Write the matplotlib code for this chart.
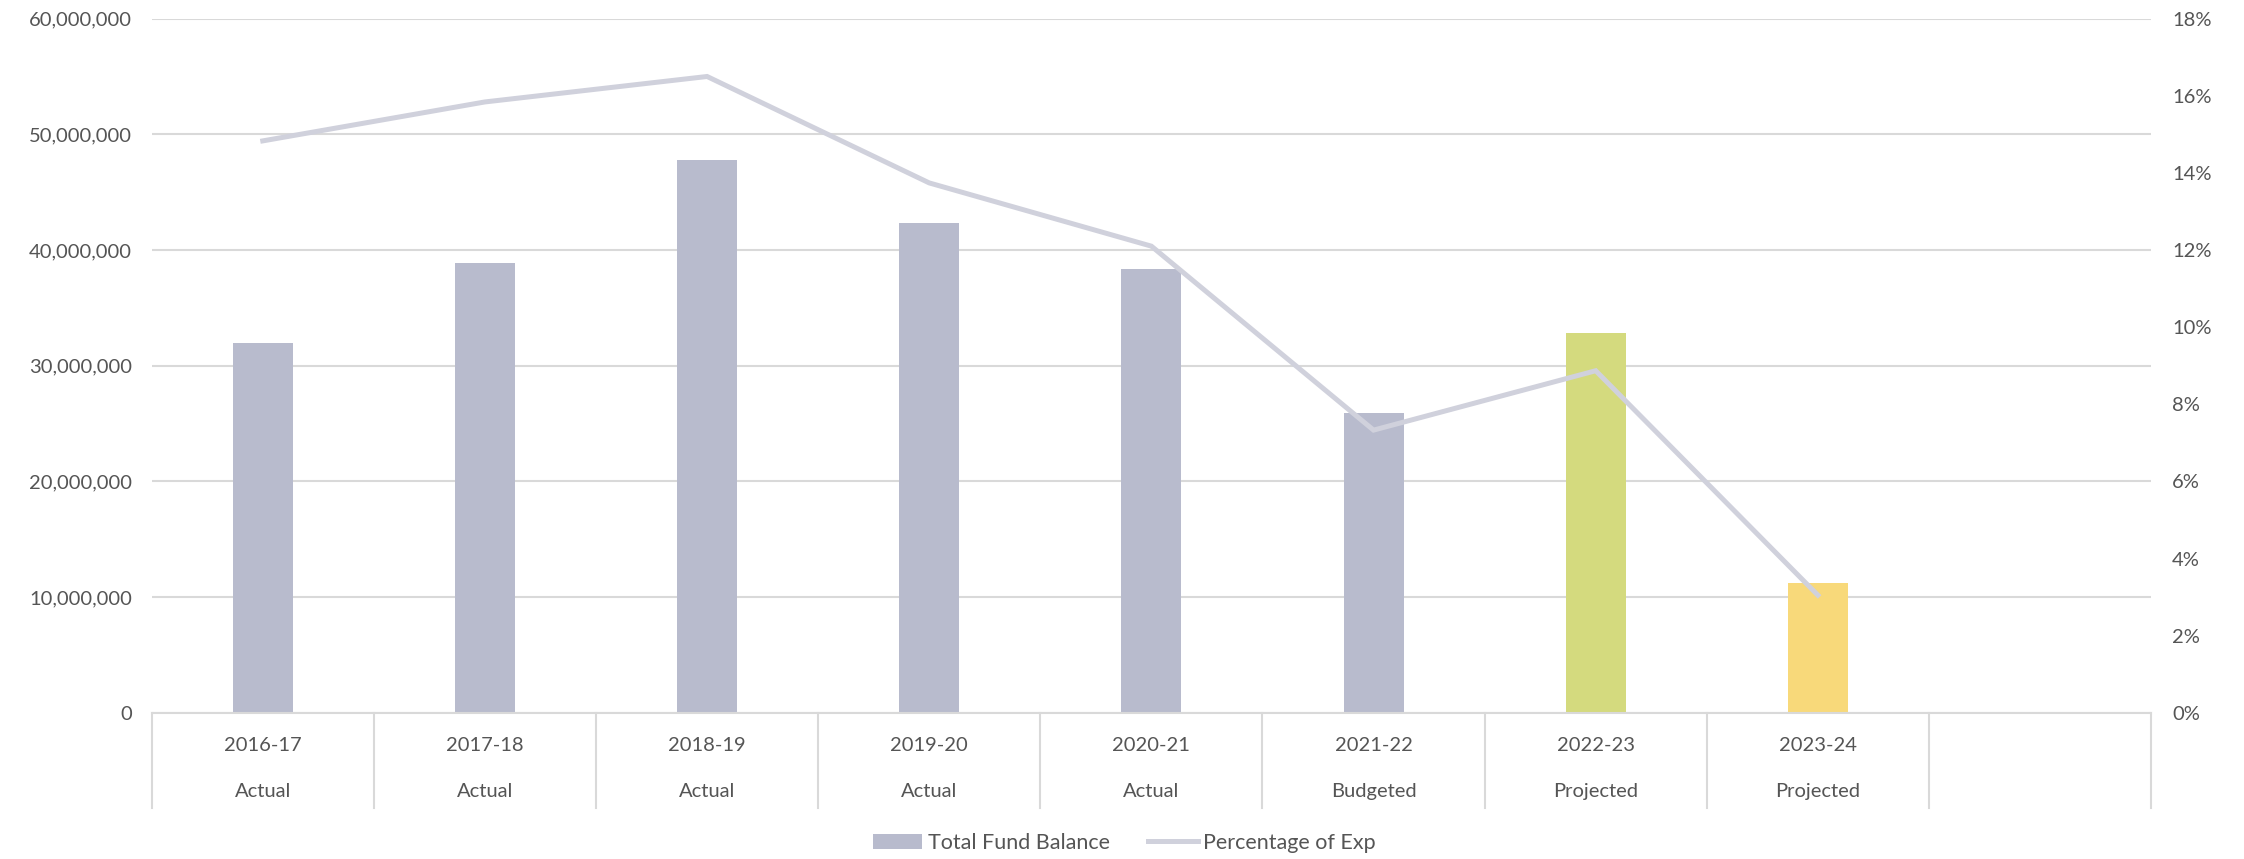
import matplotlib
matplotlib.use("Agg")
import matplotlib.pyplot as plt
from matplotlib import font_manager
from matplotlib.ticker import FuncFormatter, MultipleLocator
from matplotlib.patches import Patch
from matplotlib.lines import Line2D

# ---- data ----
years = ["2016-17", "2017-18", "2018-19", "2019-20", "2020-21", "2021-22", "2022-23", "2023-24"]
status = ["Actual", "Actual", "Actual", "Actual", "Actual", "Budgeted", "Projected", "Projected"]
fund_balance = [32.0e6, 38.85e6, 47.8e6, 42.3e6, 38.4e6, 25.9e6, 32.8e6, 11.2e6]
pct_of_exp = [14.83, 15.84, 16.5, 13.74, 12.1, 7.33, 8.87, 3.05]
bar_colors = ["#B8BBCD"] * 6 + ["#D4DA7E", "#F8D97A"]
n_slots = 9  # one empty trailing category slot

names = {f.name for f in font_manager.fontManager.ttflist}
fam = [f for f in ["Lato", "DejaVu Sans"] if f in names]
plt.rcParams["font.family"] = fam

TXT = "#555555"
GRID = "#D9D9D9"
FS = 14.5

fig = plt.figure(figsize=(22.44, 8.59), dpi=100)
ax = fig.add_axes([0.0676, 0.1702, 0.8910, 0.8081])
ax2 = ax.twinx()

x = list(range(len(years)))
ax.bar(x, fund_balance, width=0.27, color=bar_colors, zorder=2)
ax.set_xlim(-0.5, n_slots - 0.5)
ax.set_ylim(0, 60e6)
ax.yaxis.set_major_locator(MultipleLocator(10e6))
ax.yaxis.set_major_formatter(FuncFormatter(lambda v, p: f"{int(v):,}"))
ax.grid(axis="y", color=GRID, linewidth=1.5, zorder=0)
ax.set_axisbelow(True)
ax.tick_params(axis="y", length=0, pad=14, labelsize=FS, labelcolor=TXT)
ax.tick_params(axis="x", length=0, labelbottom=False)
for s in ["top", "left", "right"]:
    ax.spines[s].set_visible(False)
ax.spines["bottom"].set_color(GRID)
ax.spines["bottom"].set_linewidth(1.5)

ax2.plot(x, pct_of_exp, color="#D0D1DC", linewidth=3.6, solid_joinstyle="miter", zorder=3)
ax2.set_ylim(0, 18)
ax2.yaxis.set_major_locator(MultipleLocator(2))
ax2.yaxis.set_major_formatter(FuncFormatter(lambda v, p: f"{int(round(v))}%"))
ax2.tick_params(axis="y", length=0, pad=15, labelsize=FS, labelcolor=TXT)
for s in ["top", "left", "right", "bottom"]:
    ax2.spines[s].set_visible(False)

# two-level category labels
trans = ax.get_xaxis_transform()
for i in range(len(years)):
    ax.text(i, -0.0464, years[i], transform=trans, ha="center", va="center",
            fontsize=FS, color=TXT)
    ax.text(i, -0.1127, status[i], transform=trans, ha="center", va="center",
            fontsize=FS, color=TXT)
for k in range(n_slots + 1):
    ax.plot([k - 0.5, k - 0.5], [0, -0.137], transform=trans, color=GRID,
            linewidth=1.5, clip_on=False)

handles = [Patch(facecolor="#B8BBCD", edgecolor="none", label="Total Fund Balance"),
           Line2D([0], [0], color="#D0D1DC", linewidth=3.6, label="Percentage of Exp")]
leg = fig.legend(handles=handles, loc="center", bbox_to_anchor=(0.501, 0.0186),
                 ncol=2, frameon=False, fontsize=15.5, handlelength=2.3,
                 handletextpad=0.25, columnspacing=1.8)
for t in leg.get_texts():
    t.set_color(TXT)

fig.savefig("out.png", dpi=100, facecolor="white")
